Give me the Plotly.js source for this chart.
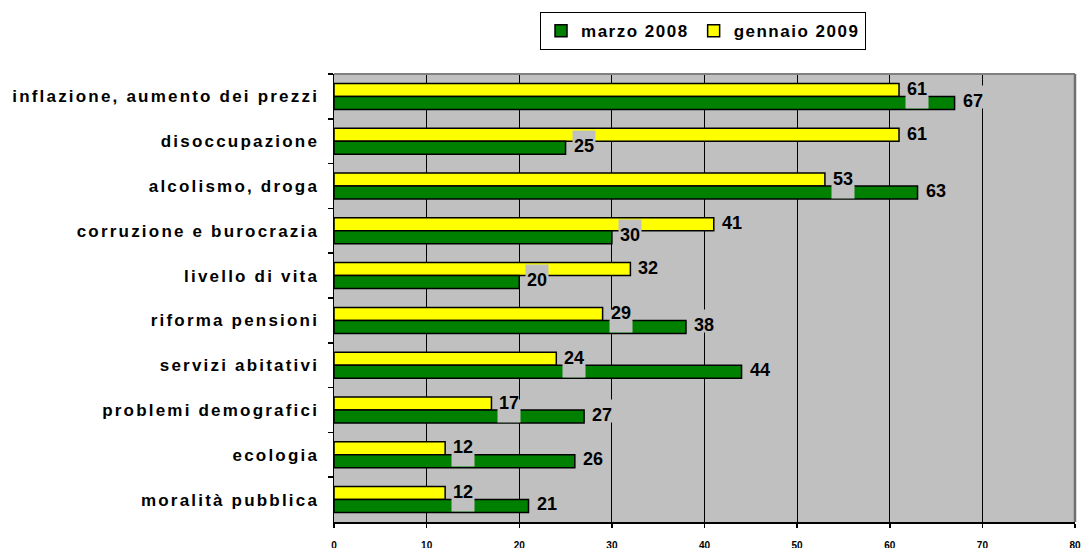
<!DOCTYPE html>
<html>
<head>
<meta charset="utf-8">
<script src="https://cdn.plot.ly/plotly-3.0.1.min.js"></script>
<style>
  html, body { margin: 0; padding: 0; background: #ffffff; }
  #chart { width: 1081px; height: 548px; }
  .ytick text { letter-spacing: 2.2px; }
  .legendtext { letter-spacing: 1.5px; }
</style>
</head>
<body>
<div id="chart"></div>
<script>
var categories = [
  "inflazione, aumento dei prezzi",
  "disoccupazione",
  "alcolismo, droga",
  "corruzione e burocrazia",
  "livello di vita",
  "riforma pensioni",
  "servizi abitativi",
  "problemi demografici",
  "ecologia",
  "moralità pubblica"
];
var marzo2008 = [67, 25, 63, 30, 20, 38, 44, 27, 26, 21];
var gennaio2009 = [61, 61, 53, 41, 32, 29, 24, 17, 12, 12];
var seriesNames = ["marzo 2008", "gennaio 2009"];
var xTicks = [0, 10, 20, 30, 40, 50, 60, 70, 80];

var FONT = "Liberation Sans, Arial, sans-serif";
var GREEN = "#008000", YELLOW = "#FFFF00", BG = "#C0C0C0";

var traces = [
  {
    type: "bar", orientation: "h", name: seriesNames[1],
    y: categories, x: gennaio2009, legendrank: 2,
    marker: { color: YELLOW, line: { color: "#000000", width: 1.5 } },
    hoverinfo: "x+y"
  },
  {
    type: "bar", orientation: "h", name: seriesNames[0],
    y: categories, x: marzo2008, legendrank: 1,
    marker: { color: GREEN, line: { color: "#000000", width: 1.5 } },
    hoverinfo: "x+y"
  }
];

var annotations = [];
function addLabels(vals, ys, boxShift) {
  vals.forEach(function (v, i) {
    // grey label background (offset like the original)
    annotations.push({
      x: v, y: categories[i], xref: "x", yref: "y",
      text: String(v), showarrow: false, xanchor: "left", yanchor: "middle",
      xshift: 6, yshift: ys + boxShift, bgcolor: BG, borderpad: 1,
      font: { family: FONT, size: 18, weight: "bold", color: "rgba(0,0,0,0)" }
    });
  });
  vals.forEach(function (v, i) {
    annotations.push({
      x: v, y: categories[i], xref: "x", yref: "y",
      text: String(v), showarrow: false, xanchor: "left", yanchor: "middle",
      xshift: 6, yshift: ys, borderpad: 1,
      font: { family: FONT, size: 18, weight: "bold", color: "#000000" }
    });
  });
}
addLabels(gennaio2009, 7.5, -8);
addLabels(marzo2008, -4.5, 4);

var layout = {
  width: 1081, height: 548,
  margin: { l: 334, r: 6, t: 74, b: 26, pad: 0 },
  paper_bgcolor: "#ffffff",
  plot_bgcolor: BG,
  barmode: "group",
  bargap: 0.42,
  bargroupgap: 0,
  font: { family: FONT, color: "#000000" },
  showlegend: true,
  legend: {
    orientation: "h", x: 0.498, xanchor: "center", y: 1.138, yanchor: "top",
    bgcolor: "#ffffff", bordercolor: "#000000", borderwidth: 1,
    font: { family: FONT, size: 17, weight: "bold", color: "#000000" },
    traceorder: "normal", itemwidth: 30
  },
  xaxis: {
    range: [0, 80], tickvals: xTicks, ticktext: xTicks.map(String),
    showgrid: true, gridcolor: "#000000", gridwidth: 1,
    zeroline: false,
    showline: true, linecolor: "#000000", linewidth: 1.5,
    ticks: "outside", ticklen: 4, tickcolor: "#000000", tickwidth: 1.5,
    ticklabelstandoff: 9,
    tickfont: { family: FONT, size: 10, weight: "bold", color: "#000000" },
    fixedrange: true
  },
  yaxis: {
    type: "category", autorange: "reversed",
    showgrid: false, zeroline: false,
    showline: true, linecolor: "#000000", linewidth: 1.5,
    ticks: "outside", tickson: "boundaries", ticklen: 5, tickcolor: "#000000", tickwidth: 1.5,
    ticklabelstandoff: 10,
    tickfont: { family: FONT, size: 17, weight: "bold", color: "#000000" },
    fixedrange: true
  },
  shapes: [
    { type: "line", xref: "paper", yref: "paper", x0: 0, x1: 1, y0: 1, y1: 1,
      line: { color: "#808080", width: 2 }, layer: "above" },
    { type: "line", xref: "paper", yref: "paper", x0: 1, x1: 1, y0: 0, y1: 1,
      line: { color: "#707070", width: 2.5 }, layer: "above" }
  ],
  annotations: annotations
};

Plotly.newPlot("chart", traces, layout, { displayModeBar: false, staticPlot: true });
</script>
</body>
</html>
